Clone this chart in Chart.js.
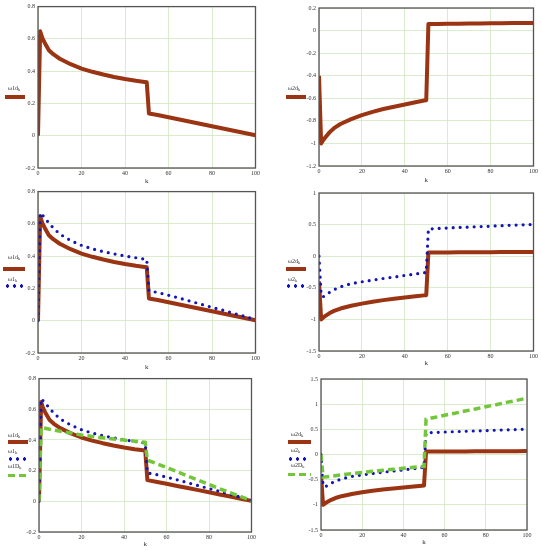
<!DOCTYPE html>
<html><head><meta charset="utf-8">
<script src="https://cdn.jsdelivr.net/npm/chart.js@4"></script>
<style>
body{margin:0;background:#fff;width:542px;height:550px;position:relative;overflow:hidden;font-family:"Liberation Serif",serif}
.box{position:absolute}
.lg{position:absolute;font-size:6px;line-height:6px;color:#333;white-space:nowrap}
.lg sub{font-size:4.5px;line-height:4px;vertical-align:-1px}
.sw{position:absolute}
.solid{height:4px;background:#9b3413;margin-top:-2px}
.dots{height:4px;margin-top:-2px;background:radial-gradient(circle,#1515b5 1.5px,transparent 1.9px) repeat-x;background-size:7px 4px}
.dash{height:3px;margin-top:-1.5px;background:repeating-linear-gradient(to right,#73c63a 0 7px,transparent 7px 11px)}
</style></head><body>
<div class="box" id="b1"><canvas id="c1"></canvas></div>
<div class="box" id="b2"><canvas id="c2"></canvas></div>
<div class="box" id="b3"><canvas id="c3"></canvas></div>
<div class="box" id="b4"><canvas id="c4"></canvas></div>
<div class="box" id="b5"><canvas id="c5"></canvas></div>
<div class="box" id="b6"><canvas id="c6"></canvas></div>

<div class="lg" style="left:8px;top:85px">ω1d<sub>k</sub></div>
<div class="sw solid" style="left:5px;top:97px;width:20px"></div>

<div class="lg" style="left:288px;top:85px">ω2d<sub>k</sub></div>
<div class="sw solid" style="left:286px;top:97px;width:20px"></div>

<div class="lg" style="left:8px;top:254px">ω1d<sub>k</sub></div>
<div class="sw solid" style="left:3px;top:269px;width:22px"></div>
<div class="lg" style="left:8px;top:276px">ω1<sub>k</sub></div>
<div class="sw dots" style="left:4px;top:286px;width:20px"></div>

<div class="lg" style="left:288px;top:258px">ω2d<sub>k</sub></div>
<div class="sw solid" style="left:286px;top:269px;width:20px"></div>
<div class="lg" style="left:288px;top:276px">ω2<sub>k</sub></div>
<div class="sw dots" style="left:285px;top:286px;width:20px"></div>

<div class="lg" style="left:8px;top:432px">ω1d<sub>k</sub></div>
<div class="sw solid" style="left:8px;top:442px;width:20px"></div>
<div class="lg" style="left:8px;top:448px">ω1<sub>k</sub></div>
<div class="sw dots" style="left:7px;top:459px;width:20px"></div>
<div class="lg" style="left:8px;top:463px">ω1D<sub>k</sub></div>
<div class="sw dash" style="left:8px;top:475px;width:20px"></div>

<div class="lg" style="left:291px;top:431px">ω2d<sub>k</sub></div>
<div class="sw solid" style="left:288px;top:442px;width:23px"></div>
<div class="lg" style="left:291px;top:447px">ω2<sub>k</sub></div>
<div class="sw dots" style="left:287px;top:459px;width:20px"></div>
<div class="lg" style="left:291px;top:462px">ω2D<sub>k</sub></div>
<div class="sw dash" style="left:288px;top:474px;width:23px"></div>

<script>
// ---- data ----
const kA = [0,1,2,3,5,7,10,15,20,25,30,35,40,45,49,50,51,55,60,65,70,75,80,85,90,95,100];
const w1d = [0,0.647,0.605,0.578,0.53,0.505,0.477,0.443,0.416,0.396,0.379,0.364,0.351,0.34,0.333,0.331,0.138,0.128,0.114,0.1,0.087,0.073,0.059,0.045,0.031,0.017,0.003];
const w1  = [0,0.668,0.655,0.64,0.605,0.575,0.537,0.497,0.467,0.445,0.428,0.414,0.401,0.39,0.382,0.38,0.185,0.175,0.158,0.14,0.121,0.102,0.083,0.065,0.046,0.027,0.006];
const w2d = [-0.4,-1.0,-0.97,-0.945,-0.9,-0.865,-0.828,-0.785,-0.75,-0.72,-0.695,-0.675,-0.655,-0.635,-0.62,-0.617,0.058,0.059,0.06,0.061,0.062,0.063,0.064,0.065,0.066,0.067,0.068];
const w2  = [0,-0.62,-0.64,-0.62,-0.57,-0.53,-0.485,-0.435,-0.405,-0.378,-0.352,-0.33,-0.305,-0.282,-0.262,-0.258,0.43,0.438,0.447,0.454,0.461,0.468,0.475,0.483,0.49,0.497,0.503];
const kD = [0,1,5,10,15,20,25,30,35,40,45,49,50,51,55,60,65,70,75,80,85,90,95,100];
const w1D = [0,0.482,0.47,0.457,0.445,0.432,0.423,0.414,0.406,0.399,0.392,0.386,0.384,0.268,0.248,0.22,0.193,0.164,0.137,0.11,0.082,0.056,0.03,0.005];
const w2D = [0,-0.45,-0.43,-0.405,-0.38,-0.355,-0.335,-0.315,-0.295,-0.275,-0.255,-0.24,-0.237,0.70,0.735,0.78,0.82,0.865,0.905,0.95,0.99,1.035,1.075,1.12];
const xTicks = [0,20,40,60,80,100];
const yTicks1 = [-0.2,0,0.2,0.4,0.6,0.8];
const yTicks2 = [-1.2,-1,-0.8,-0.6,-0.4,-0.2,0,0.2];
const yTicks4 = [-1.5,-1,-0.5,0,0.5,1];
const yTicks6 = [-1.5,-1,-0.5,0,0.5,1,1.5];

// ---- styles ----
const FONT = '"Liberation Serif", serif';
function pts(ks, vs){ return ks.map((k,i)=>({x:k,y:vs[i]})); }
function solid(ks,vs){ return {data:pts(ks,vs),borderColor:'#9b3413',borderWidth:4,borderJoinStyle:'round',pointRadius:0,order:3}; }
function dotted(ks,vs){ return {data:pts(ks,vs),borderColor:'#1515b5',borderWidth:3.2,borderDash:[0,7],borderCapStyle:'round',pointRadius:0,order:2}; }
function dashed(ks,vs){ return {data:pts(ks,vs),borderColor:'#73c63a',borderWidth:3.5,borderDash:[7,4],pointRadius:0,order:1}; }

const frame = {
  id:'frame',
  afterDatasetsDraw(chart){
    const a = chart.chartArea, c = chart.ctx;
    c.save(); c.strokeStyle='#555'; c.lineWidth=1.3;
    c.strokeRect(a.left, a.top, a.right-a.left, a.bottom-a.top);
    c.restore();
  }
};

function fmt(v){ return String(Number(v.toFixed(2))); }

function makeChart(n, b, yTicks, datasets){
  const box = document.getElementById('b'+n);
  box.style.left=b.x0+'px'; box.style.top=b.y0+'px';
  box.style.width=(b.x1-b.x0)+'px'; box.style.height=(b.y1-b.y0)+'px';
  new Chart(document.getElementById('c'+n), {
    type:'line',
    data:{datasets},
    options:{
      responsive:true, maintainAspectRatio:false, animation:false,
      plugins:{legend:{display:false},tooltip:{enabled:false}},
      layout:{padding:{left:0,top:b.pt-b.y0,right:b.x1-b.pr,bottom:0}},
      elements:{line:{tension:0}},
      scales:{
        x:{type:'linear',min:0,max:100,
          afterBuildTicks:s=>{s.ticks=xTicks.map(v=>({value:v}));},
          afterFit:s=>{s.height=b.y1-b.pb;},
          ticks:{font:{size:6,family:FONT},color:'#333',padding:2,maxRotation:0,autoSkip:false,callback:v=>fmt(v)},
          grid:{color:'#cfe7c0',lineWidth:0.8,drawTicks:false},
          border:{display:false},
          title:{display:true,text:'k',font:{size:7,family:FONT},color:'#333',padding:{top:0,bottom:0}}
        },
        y:{type:'linear',min:yTicks[0],max:yTicks[yTicks.length-1],
          afterBuildTicks:s=>{s.ticks=yTicks.map(v=>({value:v}));},
          afterFit:s=>{s.width=b.pl-b.x0;},
          ticks:{font:{size:6,family:FONT},color:'#333',padding:3,autoSkip:false,callback:v=>fmt(v)},
          grid:{color:'#cfe7c0',lineWidth:0.8,drawTicks:false},
          border:{display:false}
        }
      }
    },
    plugins:[frame]
  });
}

makeChart(1,{x0:0,y0:0,x1:262,y1:185,pl:38,pt:6,pr:258,pb:168},yTicks1,[solid(kA,w1d)]);
makeChart(2,{x0:271,y0:0,x1:540,y1:184,pl:319,pt:8,pr:534,pb:166},yTicks2,[solid(kA,w2d)]);
makeChart(3,{x0:0,y0:185,x1:262,y1:371,pl:38,pt:191,pr:258,pb:353},yTicks1,[solid(kA,w1d),dotted(kA,w1)]);
makeChart(4,{x0:271,y0:185,x1:540,y1:367,pl:319,pt:193,pr:535,pb:351},yTicks4,[solid(kA,w2d),dotted(kA,w2)]);
makeChart(5,{x0:0,y0:372,x1:258,y1:548,pl:39,pt:377,pr:252,pb:532},yTicks1,[solid(kA,w1d),dotted(kA,w1),dashed(kD,w1D)]);
makeChart(6,{x0:271,y0:372,x1:535,y1:546,pl:321,pt:379,pr:527,pb:530},yTicks6,[solid(kA,w2d),dotted(kA,w2),dashed(kD,w2D)]);
</script>
</body></html>
